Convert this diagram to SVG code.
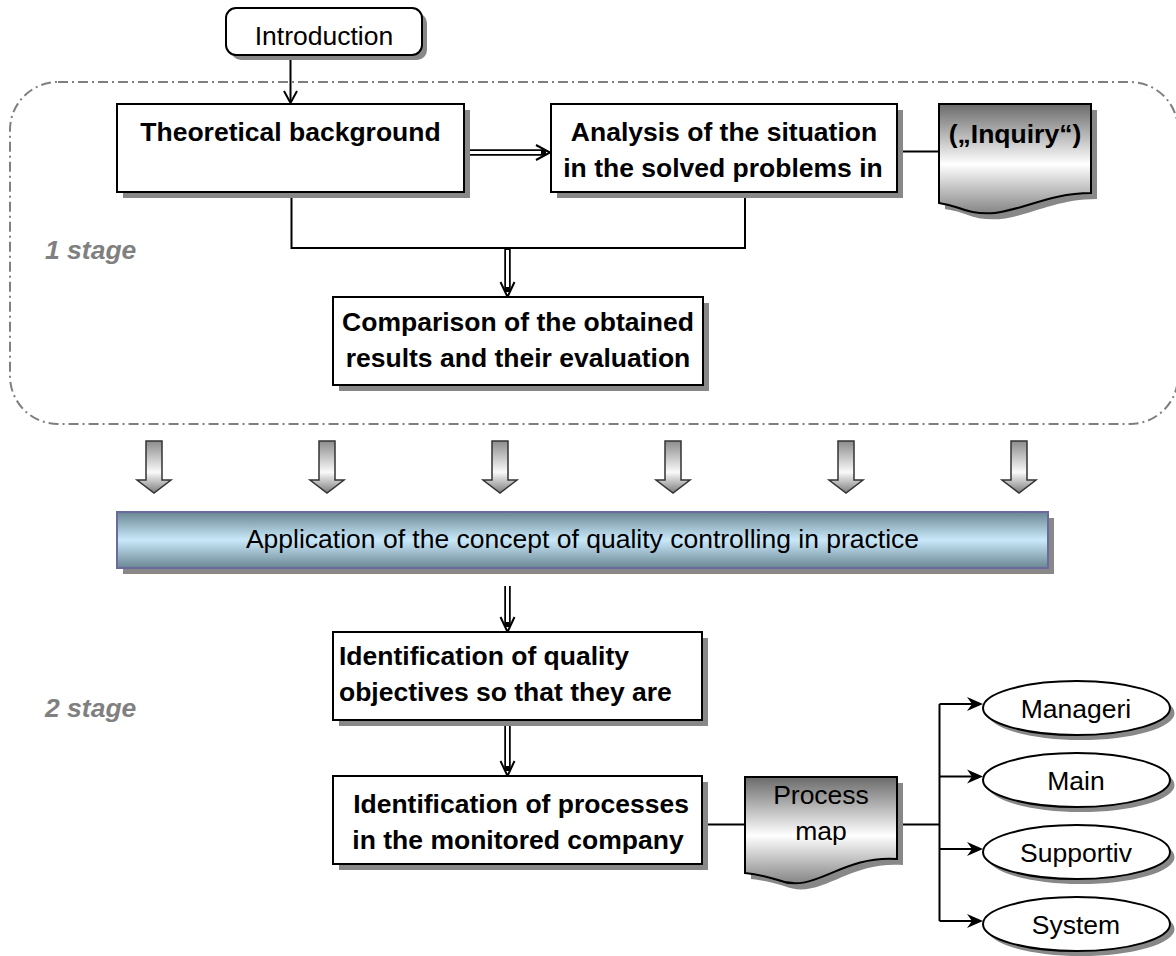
<svg xmlns="http://www.w3.org/2000/svg" width="1176" height="956" viewBox="0 0 1176 956">
  <style>
    text { font-family: "Liberation Sans", Arial, sans-serif; font-size: 26.5px; fill: #000; }
    .b { font-weight: bold; }
    .mid { text-anchor: middle; }
    .stage { font-weight: bold; font-style: italic; fill: #808080; }
    .box { fill: #fff; stroke: #000; stroke-width: 2; }
    .shadow { fill: #888; stroke: none; }
    .line { fill: none; stroke: #000; stroke-width: 2; }
    .dbl-outer { fill: none; stroke: #000; stroke-width: 6.5; }
    .dbl-inner { fill: none; stroke: #fff; stroke-width: 3; }
    .vhead { fill: none; stroke: #000; stroke-width: 2; stroke-linejoin: miter; }
    .doc { fill: url(#docGrad); stroke: #000; stroke-width: 2; }
    .block { fill: url(#arrowGrad); stroke: #333; stroke-width: 1.5; }
    .frame { fill: none; stroke: #7f7f7f; stroke-width: 2; stroke-dasharray: 10 4 2 4; }
  </style>
  <defs>
    <linearGradient id="docGrad" x1="0" y1="0" x2="0" y2="1">
      <stop offset="0" stop-color="#6a6a6a"/>
      <stop offset="0.55" stop-color="#ffffff"/>
      <stop offset="1" stop-color="#858585"/>
    </linearGradient>
    <linearGradient id="barGrad" x1="0" y1="0" x2="0" y2="1">
      <stop offset="0" stop-color="#6a8692"/>
      <stop offset="0.5" stop-color="#c9e9fb"/>
      <stop offset="1" stop-color="#6a8692"/>
    </linearGradient>
    <linearGradient id="arrowGrad" x1="0" y1="0" x2="0" y2="1">
      <stop offset="0" stop-color="#8c8c8c"/>
      <stop offset="0.6" stop-color="#fafafa"/>
      <stop offset="1" stop-color="#7c7c7c"/>
    </linearGradient>
    <path id="blockArrow" d="M-8,0 H8 V39 H17 L0,52 L-17,39 H-8 Z"/>
    <path id="stealth" d="M0,0 L-16,-7 L-11,0 L-16,7 Z"/>
  </defs>

  <!-- stage 1 boundary -->
  <rect class="frame" x="10" y="82" width="1168" height="342" rx="48" ry="48"/>
  <text class="stage" x="45" y="259">1 stage</text>
  <text class="stage" x="45" y="717">2 stage</text>

  <!-- connectors -->
  <g id="connectors">
    <!-- Introduction -> Theoretical background -->
    <path class="line" d="M290.5,56 V102"/>
    <polyline class="vhead" points="284,91 290.5,103 297,91"/>

    <!-- Theoretical background => Analysis -->
    <path class="dbl-outer" d="M464,152.5 H546"/>
    <path class="dbl-inner" d="M464,152.5 H541"/>
    <polyline class="vhead" points="536,145 550,152.5 536,160"/>

    <!-- Analysis - Inquiry -->
    <path class="line" d="M897,151.5 H939"/>

    <!-- bracket joining both boxes -->
    <path class="line" d="M291.5,192 V248 H745 V192"/>
    <path class="dbl-outer" d="M507.5,248 V292"/>
    <path class="dbl-inner" d="M507.5,250 V287"/>
    <polyline class="vhead" points="500.5,282 507.5,297 514.5,282"/>

    <!-- stage arrows -->
    <use href="#blockArrow" class="block" x="154" y="441"/>
    <use href="#blockArrow" class="block" x="327" y="441"/>
    <use href="#blockArrow" class="block" x="500" y="441"/>
    <use href="#blockArrow" class="block" x="673" y="441"/>
    <use href="#blockArrow" class="block" x="846" y="441"/>
    <use href="#blockArrow" class="block" x="1019" y="441"/>

    <!-- Application => Identification of quality objectives -->
    <path class="dbl-outer" d="M507.5,586 V627"/>
    <path class="dbl-inner" d="M507.5,586 V622"/>
    <polyline class="vhead" points="500.5,617 507.5,632 514.5,617"/>

    <!-- objectives => processes -->
    <path class="dbl-outer" d="M507.5,720 V771"/>
    <path class="dbl-inner" d="M507.5,722 V766"/>
    <polyline class="vhead" points="500.5,761 507.5,776 514.5,761"/>

    <!-- processes - process map - branches -->
    <path class="line" d="M702,824.5 H745"/>
    <path class="line" d="M897,824.5 H939.5"/>
    <path class="line" d="M939.5,704 V921"/>
    <path class="line" d="M939.5,704 H972"/>
    <path class="line" d="M939.5,776.5 H972"/>
    <path class="line" d="M939.5,849 H972"/>
    <path class="line" d="M939.5,921 H972"/>
    <use href="#stealth" x="983" y="704"/>
    <use href="#stealth" x="983" y="776.5"/>
    <use href="#stealth" x="983" y="849"/>
    <use href="#stealth" x="983" y="921"/>
  </g>

  <!-- nodes -->
  <g id="introduction">
    <rect class="shadow" x="231" y="13" width="196" height="47" rx="10"/>
    <rect class="box" x="226" y="8" width="196" height="47" rx="10"/>
    <text class="mid" x="324" y="45">Introduction</text>
  </g>

  <g id="theoretical">
    <rect class="shadow" x="123" y="110" width="347" height="88"/>
    <rect class="box" x="117" y="104" width="347" height="88"/>
    <text class="b mid" x="290.5" y="141">Theoretical background</text>
  </g>

  <g id="analysis">
    <rect class="shadow" x="557" y="110" width="346" height="88"/>
    <rect class="box" x="551" y="104" width="346" height="88"/>
    <text class="b mid" x="724" y="141">Analysis of the situation</text>
    <text class="b mid" x="723" y="177">in the solved problems in</text>
  </g>

  <g id="inquiry">
    <path class="shadow" transform="translate(6,6)" d="M939,104 H1091 V193 C1034,193 1004,226 959,208 C950,205 945,204 939,203 Z"/>
    <path class="doc" d="M939,104 H1091 V193 C1034,193 1004,226 959,208 C950,205 945,204 939,203 Z"/>
    <text class="b mid" x="1015" y="143">(„Inquiry“)</text>
  </g>

  <g id="comparison">
    <rect class="shadow" x="339" y="303" width="370" height="88"/>
    <rect class="box" x="333" y="297" width="370" height="88"/>
    <text class="b mid" x="518" y="331">Comparison of the obtained</text>
    <text class="b mid" x="518" y="367">results and their evaluation</text>
  </g>

  <g id="application">
    <rect class="shadow" x="123" y="518" width="931" height="56"/>
    <rect x="117" y="512" width="931" height="56" fill="url(#barGrad)" stroke="#6a6a9e" stroke-width="2"/>
    <text class="mid" x="582.5" y="548">Application of the concept of quality controlling in practice</text>
  </g>

  <g id="objectives">
    <rect class="shadow" x="339" y="638" width="369" height="88"/>
    <rect class="box" x="333" y="632" width="369" height="88"/>
    <text class="b" x="339" y="665">Identification of quality</text>
    <text class="b" x="339" y="701">objectives so that they are</text>
  </g>

  <g id="processes">
    <rect class="shadow" x="339" y="782" width="369" height="88"/>
    <rect class="box" x="333" y="776" width="369" height="88"/>
    <text class="b mid" x="521" y="813">Identification of processes</text>
    <text class="b mid" x="518" y="849">in the monitored company</text>
  </g>

  <g id="process-map">
    <path class="shadow" transform="translate(6,6)" d="M745,777 H897 V859 C840,855 815,895 778,880 C765,876 755,874 745,873 Z"/>
    <path class="doc" d="M745,777 H897 V859 C840,855 815,895 778,880 C765,876 755,874 745,873 Z"/>
    <text class="mid" x="821" y="804">Process</text>
    <text class="mid" x="821" y="840">map</text>
  </g>

  <g id="managerial">
    <ellipse class="shadow" cx="1081" cy="713" rx="93.5" ry="27"/>
    <ellipse class="box" cx="1076.5" cy="708" rx="93.5" ry="27"/>
    <text class="mid" x="1076" y="718">Manageri</text>
  </g>
  <g id="main">
    <ellipse class="shadow" cx="1081" cy="785" rx="93.5" ry="27"/>
    <ellipse class="box" cx="1076.5" cy="780" rx="93.5" ry="27"/>
    <text class="mid" x="1076" y="790">Main</text>
  </g>
  <g id="supportive">
    <ellipse class="shadow" cx="1081" cy="857" rx="93.5" ry="27"/>
    <ellipse class="box" cx="1076.5" cy="852" rx="93.5" ry="27"/>
    <text class="mid" x="1076" y="862">Supportiv</text>
  </g>
  <g id="system">
    <ellipse class="shadow" cx="1081" cy="929" rx="93.5" ry="27"/>
    <ellipse class="box" cx="1076.5" cy="924" rx="93.5" ry="27"/>
    <text class="mid" x="1076" y="934">System</text>
  </g>
</svg>
